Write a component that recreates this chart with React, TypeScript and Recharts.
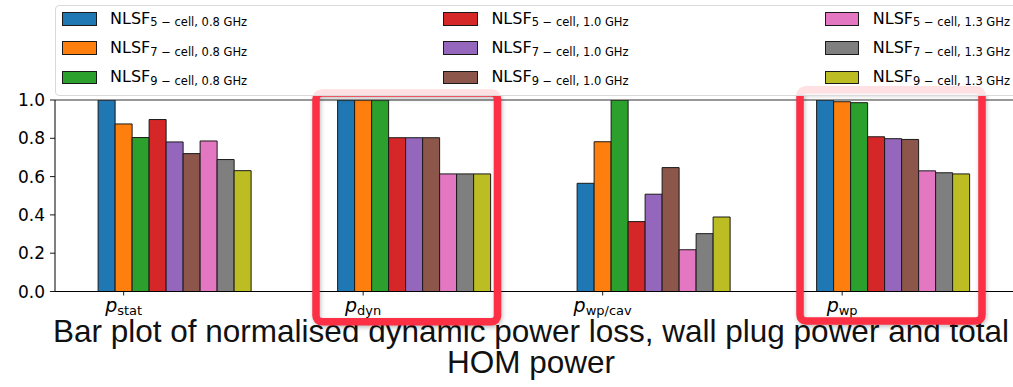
import React from 'react';
import { BarChart, Bar, XAxis, YAxis, Legend, ReferenceLine, ReferenceArea } from 'recharts';

// ---- data ----
const categories = ['stat', 'dyn', 'wp/cav', 'wp'];
const yTicks = [0, 0.2, 0.4, 0.6, 0.8, 1.0];

const cellCounts = [5, 7, 9];
const frequencies = ['0.8', '1.0', '1.3'];

// values per category: stat, dyn, wp/cav, wp
const nlsf5_08 = [1.0, 1.0, 0.565, 1.0];
const nlsf7_08 = [0.875, 1.0, 0.782, 0.991];
const nlsf9_08 = [0.804, 1.0, 1.0, 0.986];
const nlsf5_10 = [0.898, 0.803, 0.365, 0.808];
const nlsf7_10 = [0.781, 0.803, 0.508, 0.798];
const nlsf9_10 = [0.72, 0.803, 0.647, 0.794];
const nlsf5_13 = [0.786, 0.614, 0.218, 0.63];
const nlsf7_13 = [0.689, 0.614, 0.302, 0.62];
const nlsf9_13 = [0.631, 0.614, 0.389, 0.614];

const seriesValues = [nlsf5_08, nlsf7_08, nlsf9_08, nlsf5_10, nlsf7_10, nlsf9_10, nlsf5_13, nlsf7_13, nlsf9_13];

const captionLine1 = 'Bar plot of normalised dynamic power loss, wall plug power and total';
const captionLine2 = 'HOM power';

// ---- styles ----
const palette = ['#1f77b4', '#ff7f0e', '#2ca02c', '#d62728', '#9467bd', '#8c564b', '#e377c2', '#7f7f7f', '#bcbd22'];

const series = seriesValues.map((_, i) => {
  const f = frequencies[Math.floor(i / 3)];
  const n = cellCounts[i % 3];
  return { key: `s${i}`, n, f, color: palette[i] };
});

const chartData = categories.map((cat, ci) => {
  const row: Record<string, any> = { cat };
  seriesValues.forEach((vals, si) => {
    row[`s${si}`] = vals[ci];
  });
  return row;
});

const W = 1013;
const H = 387;
const PLOT_LEFT = 55;
const GAP_FRAC = 0.18;
const bandPx = (W - PLOT_LEFT) / categories.length;
const barPx = (bandPx * (1 - 2 * GAP_FRAC)) / series.length;

const FONT = "'DejaVu Sans', sans-serif";

function XTick(props: any) {
  const { x, y, payload } = props;
  const cx = x - 3 * barPx;
  return (
    <g>
      <line x1={cx} x2={cx} y1={y} y2={y + 4} stroke="#000" strokeWidth={0.9} />
      <text x={cx} y={y + 20.5} textAnchor="middle" fontFamily={FONT} fill="#000">
        <tspan fontStyle="italic" fontSize={19}>p</tspan>
        <tspan fontSize={13} dy={3}>{payload.value}</tspan>
      </text>
    </g>
  );
}

function LegendContent(props: any) {
  const payload = props.payload || [];
  return (
    <div
      style={{
        position: 'relative',
        width: 990,
        height: 91,
        border: '1px solid #d9d9d9',
        borderRadius: 4,
        background: 'rgba(255,255,255,0.85)',
        boxSizing: 'border-box',
        fontFamily: FONT,
        color: '#000',
      }}
    >
      {payload.map((entry: any, i: number) => {
        const meta = series.find((s) => s.key === entry.dataKey) || series[i];
        const idx = series.indexOf(meta);
        const col = Math.floor(idx / 3);
        const row = idx % 3;
        return (
          <React.Fragment key={meta.key}>
            <div
              style={{
                position: 'absolute',
                left: 6 + col * 381.4,
                top: 6.7 + row * 29.2,
                width: 34.5,
                height: 13.5,
                background: meta.color,
                border: '1px solid #1a1a1a',
                boxSizing: 'border-box',
              }}
            />
            <div
              style={{
                position: 'absolute',
                left: 54 + col * 381.4,
                top: 5.4 + row * 29.2,
                fontSize: 16,
                lineHeight: '16px',
                whiteSpace: 'nowrap',
              }}
            >
              NLSF
              <span style={{ fontSize: 11.5, position: 'relative', top: 2.5 }}>
                {`${meta.n} − cell, ${meta.f} GHz`}
              </span>
            </div>
          </React.Fragment>
        );
      })}
    </div>
  );
}

const annotations = [
  { cat: 'dyn', y1: -0.158, y2: 1.037, inL: 21.5, inR: 36.5 },
  { cat: 'wp', y1: -0.154, y2: 1.054, inL: 26.5, inR: 31 },
];

function makeBox(inL: number, inR: number) {
  return (props: any) => {
    const { x, y, width, height } = props;
    return (
      <rect
        x={x + inL}
        y={y}
        width={width - inL - inR}
        height={height}
        rx={6}
        ry={6}
        fill="none"
        stroke="#fc2f44"
        strokeWidth={7.5}
        style={{ filter: 'drop-shadow(1px 2px 2px rgba(0,0,0,0.25))' }}
      />
    );
  };
}

export default function App() {
  return (
    <div style={{ position: 'absolute', left: 0, top: 0, width: W, height: H, overflow: 'hidden', background: '#fff' }}>
      <div
        style={{
          position: 'absolute',
          left: 0,
          top: 316,
          width: 1062,
          textAlign: 'center',
          fontFamily: "'Liberation Sans', Arial, sans-serif",
          fontSize: 31.5,
          lineHeight: '31px',
          color: '#111',
          whiteSpace: 'nowrap',
        }}
      >
        <div>{captionLine1}</div>
        <div>{captionLine2}</div>
      </div>
      <div style={{ position: 'relative' }}>
        <BarChart
          width={W}
          height={H}
          data={chartData}
          margin={{ top: 100, right: 0, bottom: 65.5, left: 0 }}
          barGap={0}
          barCategoryGap={`${GAP_FRAC * 100}%`}
        >
          <XAxis
            dataKey="cat"
            height={30}
            tickLine={false}
            tickSize={0}
            tickMargin={0}
            axisLine={{ stroke: '#000', strokeWidth: 1 }}
            tick={<XTick />}
            interval={0}
          />
          <YAxis
            width={55}
            domain={[0, 1]}
            ticks={yTicks}
            allowDataOverflow
            tickFormatter={(v: number) => v.toFixed(1)}
            tickSize={5}
            tickMargin={5}
            axisLine={{ stroke: '#000', strokeWidth: 1 }}
            tickLine={{ stroke: '#000', strokeWidth: 0.9 }}
            tick={{ fontFamily: FONT, fontSize: 17, fill: '#000' }}
          />
          <Legend
            layout="vertical"
            align="center"
            verticalAlign="middle"
            wrapperStyle={{ left: 55, top: 4.5, width: 990, height: 91 }}
            content={<LegendContent />}
          />
          {series.map((s) => (
            <Bar
              key={s.key}
              dataKey={s.key}
              name={`NLSF ${s.n} − cell, ${s.f} GHz`}
              fill={s.color}
              stroke="#1a1a1a"
              strokeWidth={1}
              isAnimationActive={false}
            />
          ))}
          <ReferenceLine y={1} stroke="#333" strokeWidth={1} ifOverflow="visible" />
          {annotations.map((a) => (
            <ReferenceArea
              key={a.cat}
              x1={a.cat}
              x2={a.cat}
              y1={a.y1}
              y2={a.y2}
              ifOverflow="visible"
              zIndex={2000}
              shape={makeBox(a.inL, a.inR)}
            />
          ))}
        </BarChart>
      </div>
    </div>
  );
}
